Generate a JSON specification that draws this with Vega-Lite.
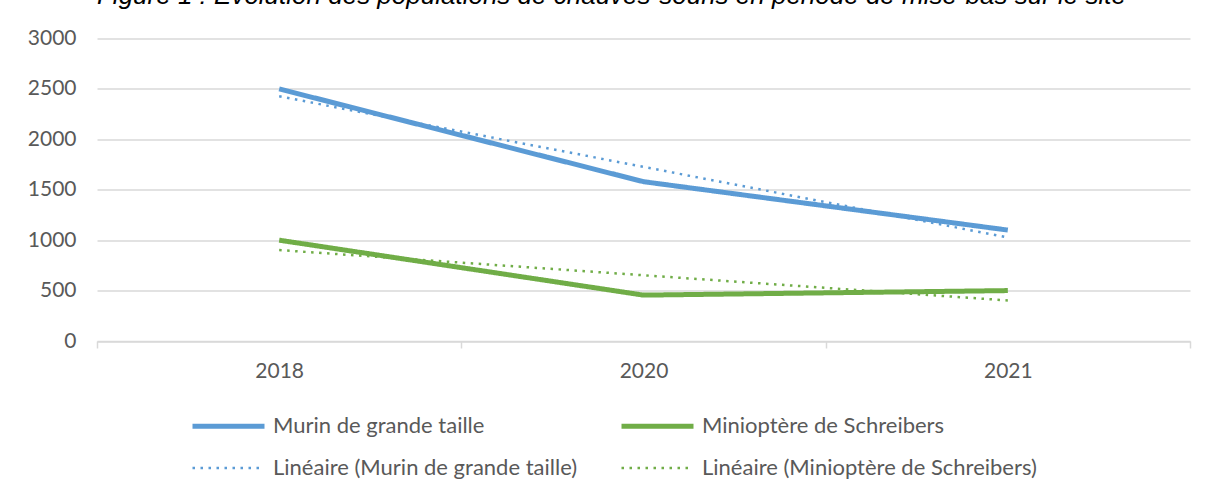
{
  "$schema": "https://vega.github.io/schema/vega-lite/v6.json",
  "width": 1093,
  "height": 302.5,
  "autosize": {"type": "none"},
  "padding": {"left": 97, "top": 38.5, "right": 20, "bottom": 162},
  "background": "white",
  "title": {
    "text": "Figure 1 : Evolution des populations de chauves-souris en période de mise-bas sur le site",
    "font": "Liberation Sans",
    "fontStyle": "italic",
    "fontWeight": "normal",
    "fontSize": 26,
    "color": "#000000",
    "anchor": "middle",
    "baseline": "alphabetic",
    "offset": 0,
    "dx": -32,
    "dy": 2
  },
  "data": {
    "values": [
      {"annee": "2018", "serie": "Murin de grande taille", "effectif": 2500},
      {"annee": "2020", "serie": "Murin de grande taille", "effectif": 1580},
      {"annee": "2021", "serie": "Murin de grande taille", "effectif": 1100},
      {"annee": "2018", "serie": "Minioptère de Schreibers", "effectif": 1000},
      {"annee": "2020", "serie": "Minioptère de Schreibers", "effectif": 455},
      {"annee": "2021", "serie": "Minioptère de Schreibers", "effectif": 500},
      {"annee": "2018", "serie": "Linéaire (Murin de grande taille)", "effectif": 2427},
      {"annee": "2020", "serie": "Linéaire (Murin de grande taille)", "effectif": 1727},
      {"annee": "2021", "serie": "Linéaire (Murin de grande taille)", "effectif": 1027},
      {"annee": "2018", "serie": "Linéaire (Minioptère de Schreibers)", "effectif": 902},
      {"annee": "2020", "serie": "Linéaire (Minioptère de Schreibers)", "effectif": 652},
      {"annee": "2021", "serie": "Linéaire (Minioptère de Schreibers)", "effectif": 402}
    ]
  },
  "mark": {"type": "line", "strokeCap": "butt", "strokeJoin": "round"},
  "encoding": {
    "x": {
      "field": "annee",
      "type": "ordinal",
      "bandPosition": 0.5,
      "scale": {"type": "band", "paddingInner": 0, "paddingOuter": 0},
      "axis": {
        "title": null,
        "labelAngle": 0,
        "tickBand": "extent",
        "domainColor": "#D9D9D9",
        "domainWidth": 1.5,
        "tickColor": "#D9D9D9",
        "tickWidth": 1.5,
        "tickSize": 7,
        "labelPadding": 12,
        "labelFont": "Lato",
        "labelFontSize": 21,
        "labelColor": "#595959",
        "grid": false
      }
    },
    "y": {
      "field": "effectif",
      "type": "quantitative",
      "scale": {"domain": [0, 3000], "nice": false},
      "axis": {
        "title": null,
        "values": [0, 500, 1000, 1500, 2000, 2500, 3000],
        "format": "d",
        "domain": false,
        "ticks": false,
        "grid": true,
        "gridColor": "#D9D9D9",
        "gridWidth": 1.5,
        "labelPadding": 21,
        "labelFont": "Lato",
        "labelFontSize": 21,
        "labelColor": "#595959"
      }
    },
    "color": {
      "field": "serie",
      "type": "nominal",
      "scale": {
        "domain": ["Murin de grande taille", "Minioptère de Schreibers", "Linéaire (Murin de grande taille)", "Linéaire (Minioptère de Schreibers)"],
        "range": ["#5B9BD5", "#70AD47", "#5B9BD5", "#70AD47"]
      },
      "legend": {
        "title": null,
        "orient": "none",
        "legendX": 93,
        "legendY": 367,
        "direction": "horizontal",
        "columns": 2,
        "symbolType": "M-1,0H3",
        "symbolSize": 1296,
        "labelFont": "Lato",
        "labelFontSize": 22,
        "labelColor": "#595959",
        "labelOffset": 42,
        "labelLimit": 500,
        "columnPadding": 33,
        "rowPadding": 11
      }
    },
    "strokeDash": {
      "field": "serie",
      "type": "nominal",
      "scale": {
        "domain": ["Murin de grande taille", "Minioptère de Schreibers", "Linéaire (Murin de grande taille)", "Linéaire (Minioptère de Schreibers)"],
        "range": [[1, 0], [1, 0], [2.5, 5.5], [2.5, 5.5]]
      }
    },
    "strokeWidth": {
      "field": "serie",
      "type": "nominal",
      "scale": {
        "type": "ordinal",
        "domain": ["Murin de grande taille", "Minioptère de Schreibers", "Linéaire (Murin de grande taille)", "Linéaire (Minioptère de Schreibers)"],
        "range": [5, 5, 2.5, 2.5]
      }
    }
  },
  "config": {"view": {"stroke": null}}
}
